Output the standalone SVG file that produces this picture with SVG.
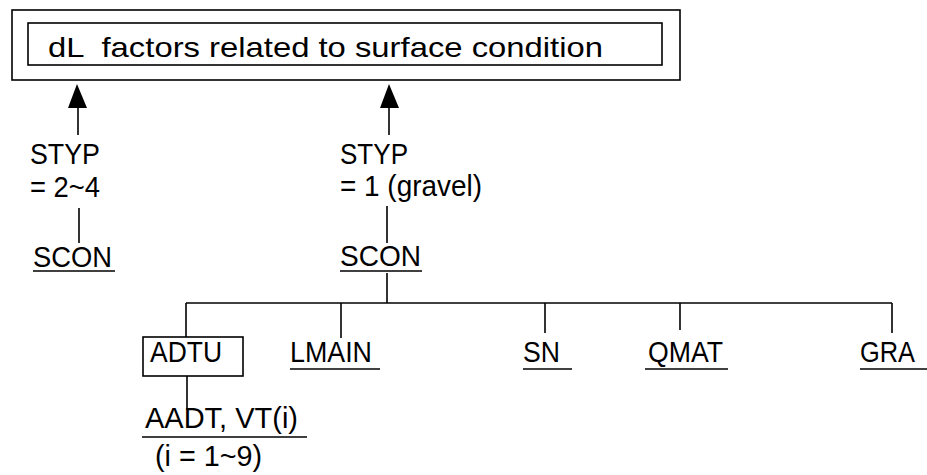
<svg xmlns="http://www.w3.org/2000/svg" width="927" height="475" viewBox="0 0 927 475">
<style>
text{font-family:"Liberation Sans",Arial,sans-serif;font-size:29px;fill:#000}
.ln{stroke:#000;stroke-width:1.6;fill:none}
.bx{stroke:#000;stroke-width:1.6;fill:none}
</style>
<rect width="927" height="475" fill="#fff"/>
<g id="title">
<rect class="bx" x="12" y="10" width="668" height="70"/>
<rect class="bx" x="28" y="23" width="634" height="42"/>
<text x="48" y="57" style="font-size:28px" textLength="555" lengthAdjust="spacingAndGlyphs" xml:space="preserve">dL  factors related to surface condition</text>
</g>
<g id="connectors">
<polygon points="77,84 68,108 87,108" fill="#000"/>
<line class="ln" x1="78" y1="106" x2="78" y2="135"/>
<polygon points="389,84 380,108 399,108" fill="#000"/>
<line class="ln" x1="389" y1="106" x2="389" y2="135"/>
<line class="ln" x1="79" y1="208" x2="79" y2="243"/>
<line class="ln" x1="387" y1="206" x2="387" y2="243"/>
<line class="ln" x1="387" y1="273" x2="387" y2="303"/>
<line class="ln" x1="186" y1="303" x2="892" y2="303"/>
<line class="ln" x1="186" y1="303" x2="186" y2="337"/>
<line class="ln" x1="341" y1="303" x2="341" y2="338"/>
<line class="ln" x1="545" y1="303" x2="545" y2="333"/>
<line class="ln" x1="680" y1="303" x2="680" y2="330"/>
<line class="ln" x1="892" y1="303" x2="892" y2="333"/>
<line class="ln" x1="187" y1="376" x2="187" y2="410"/>
</g>
<g id="styp-left">
<text x="30" y="164" textLength="70" lengthAdjust="spacingAndGlyphs">STYP</text>
<text x="30" y="197" textLength="70" lengthAdjust="spacingAndGlyphs">= 2~4</text>
</g>
<g id="scon-left">
<text x="33" y="267" textLength="79" lengthAdjust="spacingAndGlyphs">SCON</text>
<line class="ln" x1="33" y1="271" x2="115" y2="271"/>
</g>
<g id="styp-mid">
<text x="340" y="164" textLength="68" lengthAdjust="spacingAndGlyphs">STYP</text>
<text x="340" y="196" textLength="142" lengthAdjust="spacingAndGlyphs">= 1 (gravel)</text>
</g>
<g id="scon-mid">
<text x="340" y="266" textLength="81" lengthAdjust="spacingAndGlyphs">SCON</text>
<line class="ln" x1="340" y1="271" x2="422" y2="271"/>
</g>
<g id="adtu">
<rect class="bx" x="143" y="337" width="100" height="39"/>
<text x="150" y="362" textLength="72" lengthAdjust="spacingAndGlyphs">ADTU</text>
</g>
<g id="lmain">
<text x="290" y="362" textLength="82" lengthAdjust="spacingAndGlyphs">LMAIN</text>
<line class="ln" x1="290" y1="369" x2="380" y2="369"/>
</g>
<g id="sn">
<text x="523" y="362" textLength="37" lengthAdjust="spacingAndGlyphs">SN</text>
<line class="ln" x1="523" y1="369" x2="572" y2="369"/>
</g>
<g id="qmat">
<text x="648" y="362" textLength="75" lengthAdjust="spacingAndGlyphs">QMAT</text>
<line class="ln" x1="645" y1="369" x2="728" y2="369"/>
</g>
<g id="gra">
<text x="860" y="362" textLength="55" lengthAdjust="spacingAndGlyphs">GRA</text>
<line class="ln" x1="860" y1="369" x2="927" y2="369"/>
</g>
<g id="aadt">
<text x="145" y="428" textLength="153" lengthAdjust="spacingAndGlyphs">AADT, VT(i)</text>
<line class="ln" x1="142" y1="437" x2="307" y2="437"/>
<text x="155" y="466" textLength="107" lengthAdjust="spacingAndGlyphs">(i = 1~9)</text>
</g>
</svg>
